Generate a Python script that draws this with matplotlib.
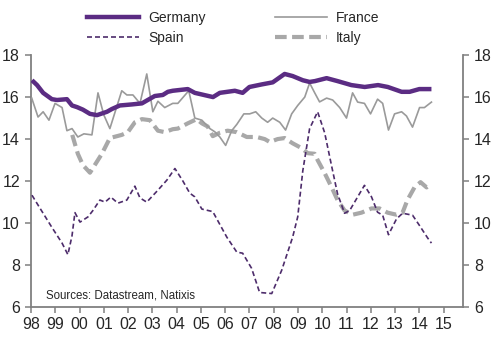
import matplotlib
matplotlib.use("Agg")
import matplotlib.pyplot as plt
from matplotlib.lines import Line2D

plt.rcParams['font.family'] = ['Liberation Sans', 'DejaVu Sans']

# Germany
germany_t = [1998.04, 1998.25, 1998.5, 1998.86, 1999.07, 1999.48, 1999.69, 1999.9,
             2000.14, 2000.43, 2000.72, 2001.13, 2001.33, 2001.66, 2002.16, 2002.57,
             2002.81, 2003.1, 2003.43, 2003.64, 2003.84, 2004.46, 2004.75, 2005.5,
             2005.78, 2006.4, 2006.72, 2007.0, 2007.5, 2007.96, 2008.45, 2008.78,
             2009.2, 2009.48, 2009.7, 2010.18, 2010.63, 2011.2, 2011.75, 2012.3,
             2012.7, 2013.27, 2013.6, 2014.0, 2014.5]
germany_v = [16.8, 16.57, 16.2, 15.9, 15.86, 15.9, 15.6, 15.52,
             15.4, 15.2, 15.14, 15.3, 15.43, 15.6, 15.65, 15.7,
             15.86, 16.05, 16.1, 16.25, 16.3, 16.38, 16.2, 16.0,
             16.2, 16.3, 16.2, 16.48, 16.6, 16.7, 17.1, 17.0,
             16.8, 16.72, 16.76, 16.9, 16.76, 16.57, 16.48, 16.57,
             16.48, 16.25, 16.25, 16.38, 16.38]

# France
france_t = [1998.03, 1998.29, 1998.5, 1998.74, 1998.99, 1999.28, 1999.48, 1999.69,
            1999.93, 2000.18, 2000.51, 2000.76, 2001.0, 2001.25, 2001.74, 2001.95,
            2002.2, 2002.49, 2002.77, 2003.02, 2003.23, 2003.51, 2003.84, 2004.05,
            2004.5, 2004.75, 2005.04, 2005.37, 2005.57, 2005.78, 2006.02, 2006.27,
            2006.48, 2006.77, 2007.01, 2007.26, 2007.51, 2007.75, 2007.96, 2008.25,
            2008.49, 2008.74, 2008.99, 2009.28, 2009.48, 2009.69, 2009.89, 2010.18,
            2010.43, 2010.72, 2011.0, 2011.25, 2011.46, 2011.74, 2011.99, 2012.28,
            2012.49, 2012.73, 2012.98, 2013.27, 2013.47, 2013.72, 2014.01, 2014.21,
            2014.5]
france_v = [15.95, 15.05, 15.3, 14.9, 15.7, 15.5, 14.4, 14.5,
            14.1, 14.25, 14.2, 16.2, 15.15, 14.5, 16.3, 16.1,
            16.1, 15.7, 17.1, 15.3, 15.8, 15.5, 15.7, 15.7,
            16.3, 15.0, 14.9, 14.5, 14.35, 14.1, 13.7, 14.4,
            14.7, 15.2, 15.2, 15.3, 15.0, 14.8, 15.0, 14.8,
            14.43, 15.2, 15.6, 16.0, 16.67, 16.2, 15.77, 15.95,
            15.86, 15.5, 15.0, 16.2, 15.76, 15.7, 15.2, 15.9,
            15.7, 14.43, 15.2, 15.3, 15.1, 14.57, 15.5, 15.5,
            15.76]

# Spain
spain_t = [1998.04, 1998.29, 1998.86, 1999.28, 1999.52, 1999.69, 1999.81, 2000.02,
           2000.35, 2000.55, 2000.84, 2001.05, 2001.29, 2001.58, 2001.95, 2002.28,
           2002.49, 2002.77, 2003.23, 2003.6, 2003.93, 2004.26, 2004.54, 2004.75,
           2005.04, 2005.49, 2006.07, 2006.48, 2006.72, 2007.09, 2007.42, 2007.92,
           2008.33, 2008.78, 2008.99, 2009.2, 2009.48, 2009.81, 2010.1, 2010.39,
           2010.63, 2010.92, 2011.13, 2011.46, 2011.74, 2012.03, 2012.28, 2012.49,
           2012.73, 2013.06, 2013.31, 2013.72, 2014.0, 2014.34, 2014.5]
spain_v = [11.33, 10.86, 9.8, 9.05, 8.5, 9.4, 10.5, 10.05,
           10.3, 10.6, 11.1, 11.0, 11.24, 10.95, 11.1, 11.76,
           11.2, 11.0, 11.57, 12.05, 12.6, 12.0, 11.43, 11.25,
           10.67, 10.55, 9.33, 8.62, 8.57, 7.85, 6.7, 6.65,
           7.76, 9.33, 10.3, 12.5, 14.5, 15.3, 14.3, 12.7,
           11.4, 10.47, 10.6, 11.25, 11.8, 11.25, 10.52, 10.38,
           9.45, 10.2, 10.47, 10.38, 9.9, 9.3, 9.05]

# Italy
italy_t = [1999.7, 1999.93, 2000.14, 2000.35, 2000.43, 2000.92, 2001.25, 2001.74,
           2001.99, 2002.28, 2002.57, 2002.9, 2003.23, 2003.51, 2003.84, 2004.05,
           2004.46, 2004.83, 2005.04, 2005.28, 2005.49, 2005.78, 2006.1, 2006.48,
           2006.89, 2007.3, 2007.63, 2007.84, 2008.16, 2008.45, 2008.78, 2009.15,
           2009.4, 2009.69, 2009.81, 2010.1, 2010.39, 2010.63, 2010.92, 2011.25,
           2011.62, 2012.03, 2012.36, 2012.69, 2013.06, 2013.31, 2013.51, 2013.8,
           2014.05, 2014.3, 2014.5]
italy_v = [14.2, 13.3, 12.76, 12.5, 12.4, 13.3, 14.05, 14.2,
           14.33, 14.8, 14.95, 14.9, 14.4, 14.33, 14.47, 14.5,
           14.75, 14.95, 14.75, 14.6, 14.14, 14.3, 14.4, 14.33,
           14.1, 14.1, 14.0, 13.86, 14.0, 14.05, 13.8, 13.57,
           13.33, 13.3, 13.0, 12.38, 11.7, 11.1, 10.6, 10.4,
           10.5, 10.7, 10.7, 10.5, 10.4, 10.5, 11.1, 11.7,
           11.95, 11.7, 11.85]

year_ticks = list(range(1998, 2016))
year_labels = [f"{y % 100:02d}" for y in year_ticks]
value_ticks = [6, 8, 10, 12, 14, 16, 18]

purple = "#5b2c83"
spain_col = "#4d2c6b"
gray_thin = "#9a9a9a"
gray_thick = "#a8a8a8"
axis_col = "#808080"
text_col = "#262626"

fig = plt.figure(figsize=(5.0, 3.44), dpi=100)
ax = fig.add_axes([0.062, 0.107, 0.864, 0.733])

italy_dash = (2.8, 1.3)
spain_dash = (3.0, 1.8)

ax.plot(italy_t, italy_v, color=gray_thick, lw=3.0, dashes=italy_dash,
        dash_capstyle='butt', zorder=2)
ax.plot(france_t, france_v, color=gray_thin, lw=1.2, zorder=3)
ax.plot(spain_t, spain_v, color=spain_col, lw=1.2, dashes=spain_dash, zorder=4)
ax.plot(germany_t, germany_v, color=purple, lw=3.2, zorder=5,
        solid_joinstyle='round', solid_capstyle='butt')

ax.set_xlim(1998, 2015.8)
ax.set_ylim(6, 18)
ax.set_xticks(year_ticks)
ax.set_xticklabels(year_labels)
ax.set_yticks(value_ticks)

for side in ['left', 'right', 'bottom']:
    ax.spines[side].set_color(axis_col)
    ax.spines[side].set_linewidth(1.3)
ax.spines['top'].set_visible(False)

ax.tick_params(axis='both', direction='out', length=4, width=1.1,
               color=axis_col, labelsize=11.5, labelcolor=text_col, pad=3)
ax.tick_params(axis='y', which='both', left=True, right=True,
               labelleft=True, labelright=True, pad=4)

ax.text(0.035, 0.048, "Sources: Datastream, Natixis", transform=ax.transAxes,
        fontsize=8.3, color=text_col, ha='left', va='center')

handles = [
    Line2D([], [], color=purple, lw=3.2),
    Line2D([], [], color=spain_col, lw=1.2, dashes=spain_dash),
    Line2D([], [], color=gray_thin, lw=1.2),
    Line2D([], [], color=gray_thick, lw=3.0, dashes=italy_dash),
]
labels = ["Germany", "Spain", "France", "Italy"]
fig.legend(handles, labels, ncol=2, frameon=False, fontsize=10,
           loc='upper left', bbox_to_anchor=(0.174, 0.969),
           borderpad=0, borderaxespad=0,
           handlelength=3.75, handletextpad=0.65, columnspacing=5.0,
           labelspacing=0.45, labelcolor=text_col)

fig.savefig("out.png", dpi=100)
